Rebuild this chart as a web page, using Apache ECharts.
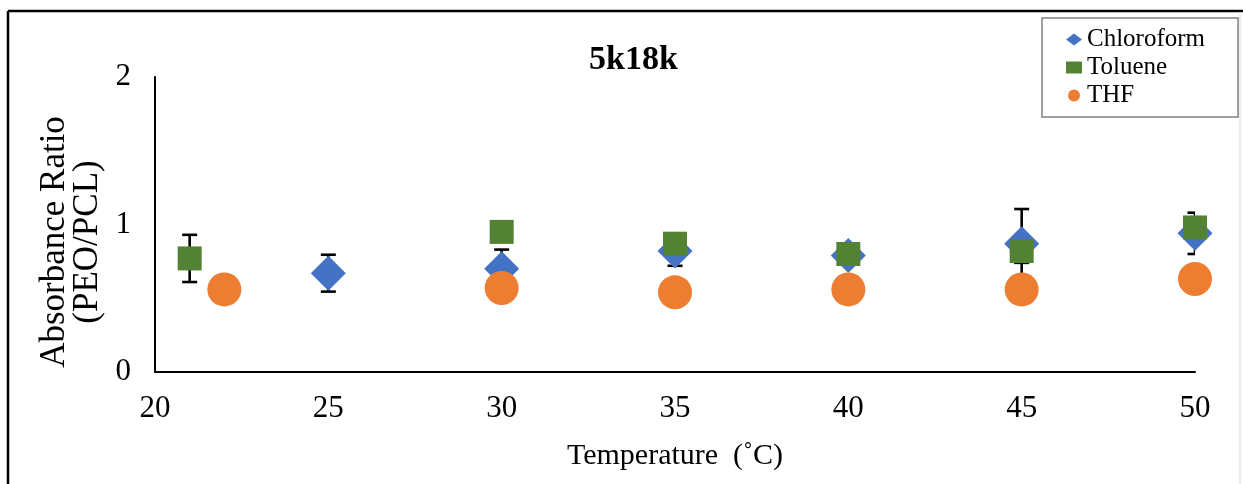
<!DOCTYPE html>
<html>
<head>
<meta charset="utf-8">
<script src="https://cdn.jsdelivr.net/npm/echarts@6/dist/echarts.min.js"></script>
<style>
html,body{margin:0;padding:0;background:#fff;}
#chart{width:1243px;height:484px;}
</style>
</head>
<body>
<div id="chart"></div>
<script>
// Data
const tempChloroform = [25, 30, 35, 40, 45, 50];
const chloroform     = [0.67, 0.70, 0.82, 0.79, 0.87, 0.94];
const chloroformErr  = [0.125, 0.13, 0.10, 0.04, 0.235, 0.14];

const tempToluene = [21, 30, 35, 40, 45, 50];
const toluene     = [0.77, 0.95, 0.87, 0.80, 0.82, 0.98];
const tolueneErr  = [0.16, 0.04, 0.04, 0.04, 0.08, 0.03];

const tempTHF = [22, 30, 35, 40, 45, 50];
const thf     = [0.56, 0.57, 0.54, 0.56, 0.56, 0.63];

const seriesNames = ['Chloroform', 'Toluene', 'THF'];
const titleText = '5k18k';
const xAxisTitle = 'Temperature  (\u02DAC)';
const yAxisTitle = 'Absorbance Ratio\n(PEO/PCL)';

const FONT = "'Liberation Serif', 'Times New Roman', serif";

function pairs(xs, ys) { return xs.map((x, i) => [x, ys[i]]); }
function errData(xs, ys, es) { return xs.map((x, i) => [x, ys[i] - es[i], ys[i] + es[i]]); }

const chart = echarts.init(document.getElementById('chart'), null, {renderer: 'canvas'});

function renderErr(params, api) {
  const x = api.value(0);
  const lo = api.coord([x, api.value(1)]);
  const hi = api.coord([x, api.value(2)]);
  const half = 7.5;
  const style = {stroke: '#000', lineWidth: 2.6};
  return {
    type: 'group',
    children: [
      {type: 'line', shape: {x1: lo[0], y1: lo[1], x2: hi[0], y2: hi[1]}, style: style},
      {type: 'line', shape: {x1: lo[0] - half, y1: lo[1], x2: lo[0] + half, y2: lo[1]}, style: style},
      {type: 'line', shape: {x1: hi[0] - half, y1: hi[1], x2: hi[0] + half, y2: hi[1]}, style: style}
    ]
  };
}

const option = {
  animation: false,
  backgroundColor: '#fff',
  title: {
    text: titleText,
    left: 584, top: 38,
    textStyle: {fontFamily: FONT, fontWeight: 'bold', fontSize: 34, color: '#000'}
  },
  legend: {
    data: seriesNames,
    orient: 'vertical',
    left: 1042, top: 18,
    padding: [9, 33, 9, 24],
    itemGap: 3,
    itemWidth: 16, itemHeight: 12,
    borderColor: '#808080', borderWidth: 1.5,
    textStyle: {fontFamily: FONT, fontSize: 25, color: '#000'}
  },
  grid: {left: 155, right: 48, top: 77, bottom: 112},
  xAxis: {
    type: 'value', min: 20, max: 50, interval: 5,
    name: xAxisTitle, nameLocation: 'middle', nameGap: 69,
    nameTextStyle: {fontFamily: FONT, fontSize: 30, color: '#000'},
    axisLine: {show: true, lineStyle: {color: '#000', width: 2}},
    axisTick: {show: false},
    splitLine: {show: false},
    axisLabel: {fontFamily: FONT, fontSize: 31, color: '#000', margin: 21}
  },
  yAxis: {
    type: 'value', min: 0, max: 2, interval: 1,
    axisLine: {show: true, lineStyle: {color: '#000', width: 2}},
    axisTick: {show: false},
    splitLine: {show: false},
    axisLabel: {fontFamily: FONT, fontSize: 31, color: '#000', margin: 24}
  },
  graphic: [
    {type: 'line', shape: {x1: 8, y1: 11, x2: 1243, y2: 11}, style: {stroke: '#000', lineWidth: 2.5}, silent: true},
    {type: 'line', shape: {x1: 8, y1: 11, x2: 8, y2: 484}, style: {stroke: '#000', lineWidth: 2.5}, silent: true},
    {type: 'line', shape: {x1: 1240, y1: 12, x2: 1240, y2: 484}, style: {stroke: '#e6e6e6', lineWidth: 1.5}, silent: true},
    {
      type: 'text', x: 71, y: 242, rotation: Math.PI / 2,
      style: {text: yAxisTitle, fontFamily: FONT, fontSize: 35, lineHeight: 33, fill: '#000', align: 'center', verticalAlign: 'middle'},
      silent: true
    }
  ],
  series: [
    {
      type: 'custom', name: 'errC', z: 1, clip: true,
      renderItem: renderErr, encode: {x: 0, y: [1, 2]},
      data: errData(tempChloroform, chloroform, chloroformErr)
    },
    {
      type: 'custom', name: 'errT', z: 1, clip: true,
      renderItem: renderErr, encode: {x: 0, y: [1, 2]},
      data: errData(tempToluene, toluene, tolueneErr)
    },
    {
      type: 'scatter', name: seriesNames[0], z: 2,
      symbol: 'diamond', symbolSize: 35,
      itemStyle: {color: '#4472C4', opacity: 1},
      data: pairs(tempChloroform, chloroform)
    },
    {
      type: 'scatter', name: seriesNames[1], z: 3,
      symbol: 'rect', symbolSize: 24,
      itemStyle: {color: '#548235', opacity: 1},
      data: pairs(tempToluene, toluene)
    },
    {
      type: 'scatter', name: seriesNames[2], z: 4,
      symbol: 'circle', symbolSize: 34,
      itemStyle: {color: '#ED7D31', opacity: 1},
      data: pairs(tempTHF, thf)
    }
  ]
};

chart.setOption(option);
</script>
</body>
</html>
